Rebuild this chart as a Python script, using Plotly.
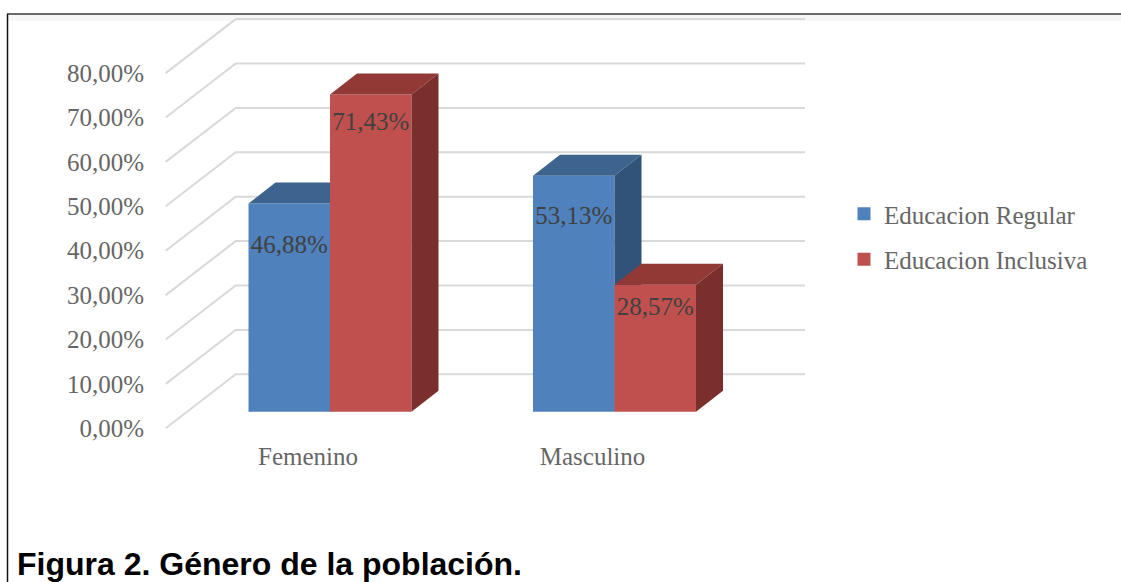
import plotly.graph_objects as go

categories = ["Femenino", "Masculino"]
cat_positions = [0, 1]
regular_values = [46.88, 53.13]
inclusiva_values = [71.43, 28.57]
regular_text = ["46,88%", "53,13%"]
inclusiva_text = ["71,43%", "28,57%"]
y_ticks = [0, 10, 20, 30, 40, 50, 60, 70, 80]
y_tick_labels = ["0,00%", "10,00%", "20,00%", "30,00%", "40,00%", "50,00%", "60,00%", "70,00%", "80,00%"]
regular_label_drop = [9.8, 9.5]
inclusiva_label_drop = [6.6, 5.5]

W, H = 1121, 582
PX_X = 284.5
PX_Y = 4.44
X0_PX = 330
Y0_PX = 428.3
LEFT = 148
BOTTOM_PX = 439

BAR_W = 81.5 / PX_X
FLOOR = 3.75
DX = 27 / PX_X
DY = 21 / PX_Y
WALL_DX = 70 / PX_X
WALL_DY = 54 / PX_Y
GRID_L = (165.7 - X0_PX) / PX_X
GRID_R = (805 - X0_PX) / PX_X
LABEL_SHIFT = -22 / PX_X

SERIF = "Liberation Serif"
TXT = "#666666"
fig = go.Figure()

# back wall + side gridlines
gx, gy = [], []
for t in y_ticks:
    gx += [GRID_L, GRID_L + WALL_DX, GRID_R, None]
    gy += [t, t + WALL_DY, t + WALL_DY, None]
fig.add_trace(go.Scatter(x=gx, y=gy, mode="lines", line=dict(color="#d9d9d9", width=2),
                         showlegend=False, hoverinfo="skip", zorder=0))


def add_series(values, left_off, front, top, side, z):
    xs = [p + left_off for p in cat_positions]
    fig.add_trace(go.Bar(x=xs, y=values, base=[FLOOR] * len(values), width=[BAR_W] * len(values),
                         offset=0, marker=dict(color=front, line=dict(width=0)),
                         showlegend=False, hoverinfo="skip", zorder=z))
    for x, v in zip(xs, values):
        t = v + FLOOR
        r = x + BAR_W
        fig.add_trace(go.Scatter(x=[x, r, r + DX, x + DX, x], y=[t, t, t + DY, t + DY, t],
                                 fill="toself", fillcolor=top, mode="lines", line=dict(width=0, color=top),
                                 showlegend=False, hoverinfo="skip", zorder=z))
        fig.add_trace(go.Scatter(x=[r, r + DX, r + DX, r, r],
                                 y=[FLOOR, FLOOR + DY, t + DY, t, FLOOR],
                                 fill="toself", fillcolor=side, mode="lines", line=dict(width=0, color=side),
                                 showlegend=False, hoverinfo="skip", zorder=z))


add_series(regular_values, -BAR_W, "#4f81bd", "#3d638f", "#325379", 1)
add_series(inclusiva_values, 0, "#c0504d", "#923936", "#7b2f2d", 2)

# data labels
lx = [p - BAR_W / 2 for p in cat_positions] + [p + BAR_W / 2 for p in cat_positions]
ly = [v + FLOOR - d for v, d in zip(regular_values, regular_label_drop)] + \
     [v + FLOOR - d for v, d in zip(inclusiva_values, inclusiva_label_drop)]
fig.add_trace(go.Scatter(x=lx, y=ly, mode="text", text=regular_text + inclusiva_text,
                         textposition="middle center",
                         textfont=dict(family=SERIF, size=25, color="#404040"),
                         showlegend=False, hoverinfo="skip", zorder=3))

# legend entries
for name, col in [("Educacion Regular", "#4f81bd"), ("Educacion Inclusiva", "#c0504d")]:
    fig.add_trace(go.Scatter(x=[None], y=[None], mode="markers", name=name, legendgroup=name,
                             marker=dict(symbol="square", size=13, color=col)))

plot_w = W - LEFT
fig.update_layout(
    width=W, height=H, autosize=False,
    margin=dict(l=LEFT, r=0, t=0, b=H - BOTTOM_PX, pad=0),
    paper_bgcolor="white", plot_bgcolor="white",
    barmode="overlay",
    showlegend=True,
    legend=dict(x=(844 - LEFT) / plot_w, xanchor="left", y=1 - 191 / BOTTOM_PX, yanchor="top",
                font=dict(family=SERIF, size=25, color=TXT), tracegroupgap=10,
                bgcolor="rgba(0,0,0,0)", borderwidth=0, itemclick=False, itemdoubleclick=False),
    xaxis=dict(range=[(LEFT - X0_PX) / PX_X, (W - X0_PX) / PX_X], showgrid=False, zeroline=False,
               showline=False, ticks="", tickmode="array",
               tickvals=[p + LABEL_SHIFT for p in cat_positions], ticktext=categories,
               tickfont=dict(family=SERIF, size=25, color=TXT)),
    yaxis=dict(range=[(Y0_PX - BOTTOM_PX) / PX_Y, Y0_PX / PX_Y], showgrid=False, zeroline=False,
               showline=False, ticks="", tickmode="array", tickvals=y_ticks, ticktext=y_tick_labels,
               ticklabelstandoff=3,
               tickfont=dict(family=SERIF, size=25, color=TXT)),
    shapes=[
        dict(type="rect", xref="paper", yref="paper", layer="below",
             x0=(8 - LEFT) / plot_w, x1=1, y0=1 - 21 / BOTTOM_PX, y1=1 - 15 / BOTTOM_PX,
             fillcolor="#f7f7f7", line=dict(width=0)),
        dict(type="line", xref="paper", yref="paper",
             x0=(7 - LEFT) / plot_w, x1=1, y0=1 - 14 / BOTTOM_PX, y1=1 - 14 / BOTTOM_PX,
             line=dict(color="#6a6a6a", width=2)),
        dict(type="line", xref="paper", yref="paper",
             x0=(7.5 - LEFT) / plot_w, x1=(7.5 - LEFT) / plot_w, y0=1 - H / BOTTOM_PX, y1=1 - 14 / BOTTOM_PX,
             line=dict(color="#111111", width=1.5)),
    ],
    annotations=[dict(text="<b>Figura 2. Género de la población.</b>", xref="paper", yref="paper",
                      x=(15 - LEFT) / plot_w, xanchor="left", y=1 - 563.5 / BOTTOM_PX, yanchor="middle",
                      showarrow=False, font=dict(family="Liberation Sans", size=32, color="#000000"))],
)

fig.write_html("out.html", config={"displayModeBar": False},
               post_script="document.body.style.margin='0';document.body.style.overflow='hidden';")
